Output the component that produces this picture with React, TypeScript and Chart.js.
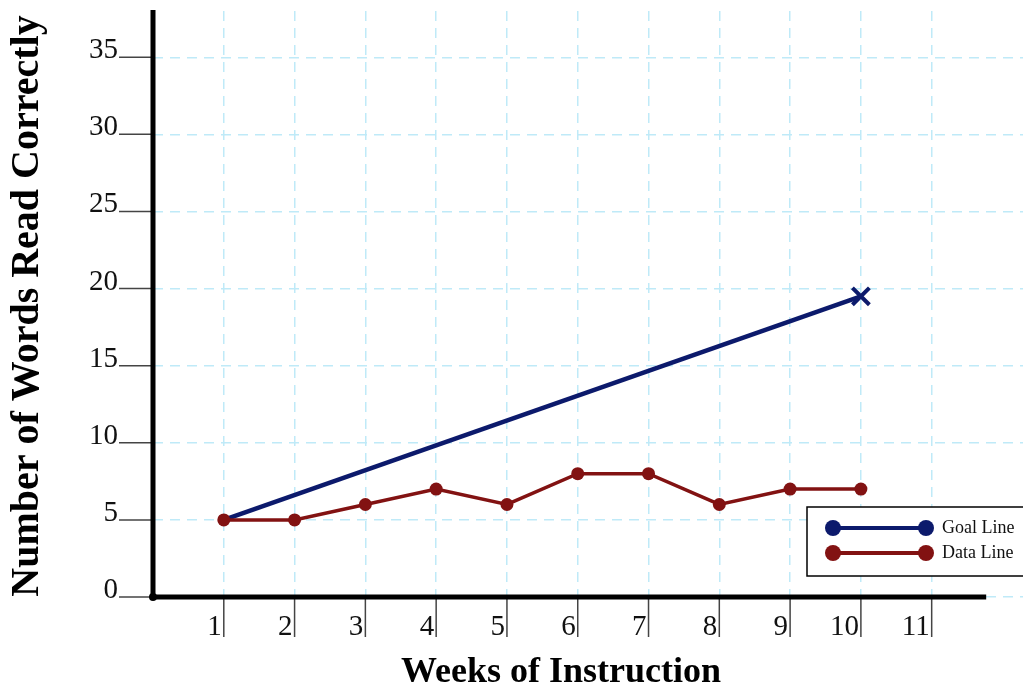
import React, { useEffect, useRef } from "react";
import { Chart, registerables } from "chart.js";

Chart.register(...registerables);

const weeks = [1, 2, 3, 4, 5, 6, 7, 8, 9, 10];
const dataLine = [5, 5, 6, 7, 6, 8, 8, 6, 7, 7];
const goalWeeks = [1, 10];
const goalLine = [5, 19.5];
const xTickLabels = ["1", "2", "3", "4", "5", "6", "7", "8", "9", "10", "11"];
const yTickLabels = ["0", "5", "10", "15", "20", "25", "30", "35"];

const SERIF = "'Liberation Serif', 'Times New Roman', serif";
const NAVY = "#0c1a6c";
const RED = "#821212";
const GRID = "#bfeaf8";

const overlay = {
  id: "overlay",
  afterDraw(chart: any) {
    const { ctx, scales } = chart;
    const xs = scales.x;
    const ys = scales.y;
    const x0 = xs.getPixelForValue(0);
    const y0 = ys.getPixelForValue(0);
    ctx.save();

    // y ticks and labels
    ctx.strokeStyle = "#444";
    ctx.lineWidth = 1.5;
    ctx.fillStyle = "#111";
    ctx.font = `29px ${SERIF}`;
    ctx.textAlign = "right";
    ctx.textBaseline = "alphabetic";
    yTickLabels.forEach((lab) => {
      const y = ys.getPixelForValue(Number(lab));
      ctx.beginPath();
      ctx.moveTo(x0 - 34, y);
      ctx.lineTo(x0, y);
      ctx.stroke();
      ctx.fillText(lab, x0 - 35, y + 1);
    });

    // x ticks and labels
    xTickLabels.forEach((lab) => {
      const x = xs.getPixelForValue(Number(lab));
      ctx.beginPath();
      ctx.moveTo(x, y0);
      ctx.lineTo(x, y0 + 40);
      ctx.stroke();
      ctx.fillText(lab, x - 2, y0 + 38);
    });

    // axes
    ctx.strokeStyle = "#000";
    ctx.lineWidth = 5;
    ctx.lineCap = "butt";
    ctx.beginPath();
    ctx.moveTo(x0, chart.chartArea.top - 1);
    ctx.lineTo(x0, y0);
    ctx.lineTo(xs.getPixelForValue(11.77), y0);
    ctx.stroke();
    ctx.fillStyle = "#000";
    ctx.beginPath();
    ctx.arc(x0, y0, 4, 0, Math.PI * 2);
    ctx.fill();

    // axis titles
    ctx.fillStyle = "#000";
    ctx.font = `bold 36px ${SERIF}`;
    ctx.textAlign = "center";
    ctx.fillText("Weeks of Instruction", 561, 682);
    ctx.save();
    ctx.translate(38, 306);
    ctx.rotate(-Math.PI / 2);
    ctx.font = `bold 40px ${SERIF}`;
    ctx.fillText("Number of Words Read Correctly", 0, 0);
    ctx.restore();

    // legend
    const bx = 807, by = 507, bw = 240, bh = 69;
    ctx.fillStyle = "#fff";
    ctx.fillRect(bx, by, bw, bh);
    ctx.strokeStyle = "#000";
    ctx.lineWidth = 1.5;
    ctx.strokeRect(bx, by, bw, bh);
    const items = [
      { label: "Goal Line", color: NAVY, y: 528 },
      { label: "Data Line", color: RED, y: 553 },
    ];
    items.forEach((it) => {
      ctx.strokeStyle = it.color;
      ctx.fillStyle = it.color;
      ctx.lineWidth = 4;
      ctx.beginPath();
      ctx.moveTo(833, it.y);
      ctx.lineTo(926, it.y);
      ctx.stroke();
      [833, 926].forEach((cx) => {
        ctx.beginPath();
        ctx.arc(cx, it.y, 8, 0, Math.PI * 2);
        ctx.fill();
      });
      ctx.fillStyle = "#111";
      ctx.font = `18px ${SERIF}`;
      ctx.textAlign = "left";
      ctx.textBaseline = "middle";
      ctx.fillText(it.label, 942, it.y);
    });
    ctx.restore();
  },
};

export default function App() {
  const ref = useRef<HTMLCanvasElement>(null);
  useEffect(() => {
    if (!ref.current) return;
    const chart = new Chart(ref.current, {
      type: "line",
      data: {
        datasets: [
          {
            label: "Data Line",
            data: weeks.map((w, i) => ({ x: w, y: dataLine[i] })),
            borderColor: RED,
            backgroundColor: RED,
            borderWidth: 3.5,
            pointRadius: 6.5,
            pointBorderWidth: 0,
            pointBackgroundColor: RED,
            tension: 0,
            clip: false,
          },
          {
            label: "Goal Line",
            data: goalWeeks.map((w, i) => ({ x: w, y: goalLine[i] })),
            borderColor: NAVY,
            backgroundColor: NAVY,
            borderWidth: 4.5,
            pointStyle: "crossRot",
            pointRadius: [0, 12],
            pointBorderWidth: 4,
            pointBorderColor: NAVY,
            tension: 0,
            clip: false,
          },
        ],
      },
      options: {
        responsive: false,
        animation: false,
        devicePixelRatio: 1,
        layout: { autoPadding: false, padding: { left: 153, top: 11, right: 0, bottom: 91 } },
        plugins: { legend: { display: false }, tooltip: { enabled: false } },
        scales: {
          x: {
            type: "linear",
            min: 0,
            max: 12.29,
            ticks: { display: false, stepSize: 1 },
            grid: { color: GRID, lineWidth: 1.5, drawTicks: false },
            border: { display: false, dash: [10, 7] },
            afterBuildTicks: (s: any) => {
              s.ticks = s.ticks.filter((t: any) => Number.isInteger(t.value));
            },
            afterFit: (s: any) => {
              s.height = 0;
            },
          },
          y: {
            type: "linear",
            min: 0,
            max: 38,
            ticks: { display: false, stepSize: 5 },
            grid: { color: GRID, lineWidth: 1.5, drawTicks: false },
            border: { display: false, dash: [10, 7] },
            afterBuildTicks: (s: any) => {
              s.ticks = s.ticks.filter((t: any) => t.value % 5 === 0);
            },
            afterFit: (s: any) => {
              s.width = 0;
            },
          },
        },
      },
      plugins: [overlay],
    });
    return () => chart.destroy();
  }, []);
  return (
    <div style={{ position: "absolute", left: 0, top: 0, width: 1023, height: 688, background: "#fff" }}>
      <canvas ref={ref} width={1023} height={688} />
    </div>
  );
}
